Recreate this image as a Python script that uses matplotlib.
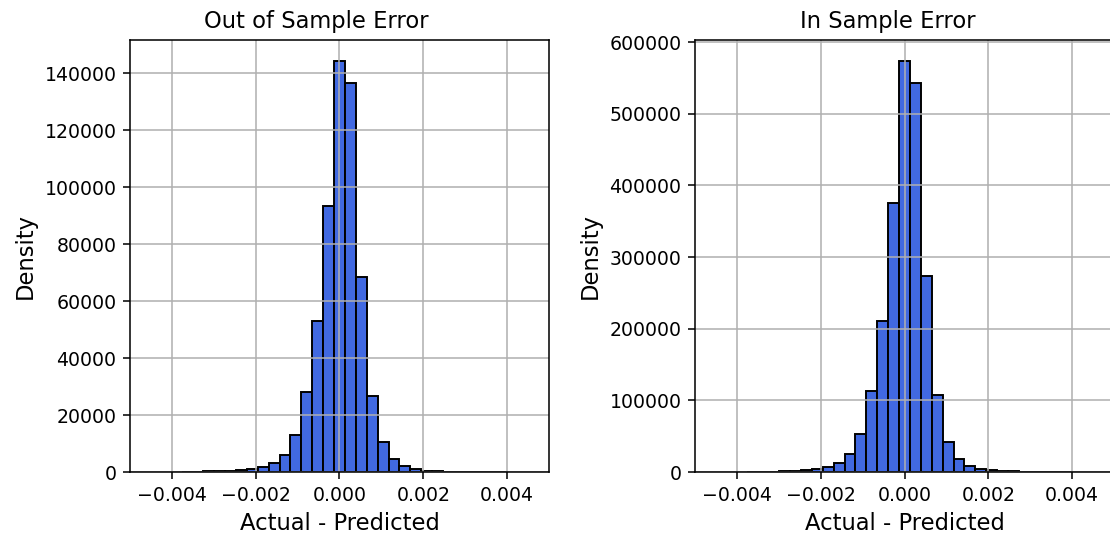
import numpy as np
import matplotlib
matplotlib.use("Agg")
import matplotlib.pyplot as plt

# Histogram definitions (bin start, bin width) and bar heights
bin_start = -0.00377
bin_width = 0.00026

out_sample_heights = [80, 130, 200, 300, 450, 700, 1050, 1750, 3150, 6060,
                      12900, 28100, 53000, 93500, 144400, 136500, 68300, 26800,
                      10500, 4660, 2100, 930, 470, 250, 150, 100, 70, 50, 30, 20]

in_sample_heights = [250, 400, 600, 1000, 1500, 2500, 4200, 7000, 12500, 24600,
                     52400, 113100, 210800, 374900, 574100, 542600, 273900, 108000,
                     42200, 18100, 8800, 4200, 2300, 1200, 700, 400, 250, 150, 100, 60]

titles = ["Out of Sample Error", "In Sample Error"]
xlabel = "Actual - Predicted"
ylabel = "Density"
xticks = [-0.004, -0.002, 0.0, 0.002, 0.004]

scale = 1.39
title_x = [0.444, 0.460]

fig = plt.figure(figsize=(11.1, 5.4), dpi=100)
ax1 = fig.add_axes([130 / 1110, 68 / 540, 419 / 1110, 432 / 540])
ax2 = fig.add_axes([695 / 1110, 68 / 540, 419 / 1110, 432 / 540])

for ax, heights, title, tx in zip([ax1, ax2], [out_sample_heights, in_sample_heights],
                                  titles, title_x):
    n = len(heights)
    edges = bin_start + bin_width * np.arange(n + 1)
    centers = (edges[:-1] + edges[1:]) / 2
    ax.hist(centers, bins=edges, weights=heights, color="#4169E1",
            edgecolor="black", linewidth=1.0 * scale)
    ax.set_xlim(-0.005, 0.005)
    ax.set_xticks(xticks)
    ax.grid(True, color="#b0b0b0", linewidth=0.8 * scale)
    ax.set_title(title, fontsize=11.7 * scale, pad=6 * scale, x=tx)
    ax.set_xlabel(xlabel, fontsize=11.7 * scale, labelpad=4 * scale)
    ax.set_ylabel(ylabel, fontsize=11.7 * scale, labelpad=4 * scale)
    ax.tick_params(labelsize=9.8 * scale, length=3.5 * scale, width=0.8 * scale,
                   pad=3.5 * scale)
    for s in ax.spines.values():
        s.set_linewidth(0.8 * scale)

fig.savefig("out.png", dpi=100)
